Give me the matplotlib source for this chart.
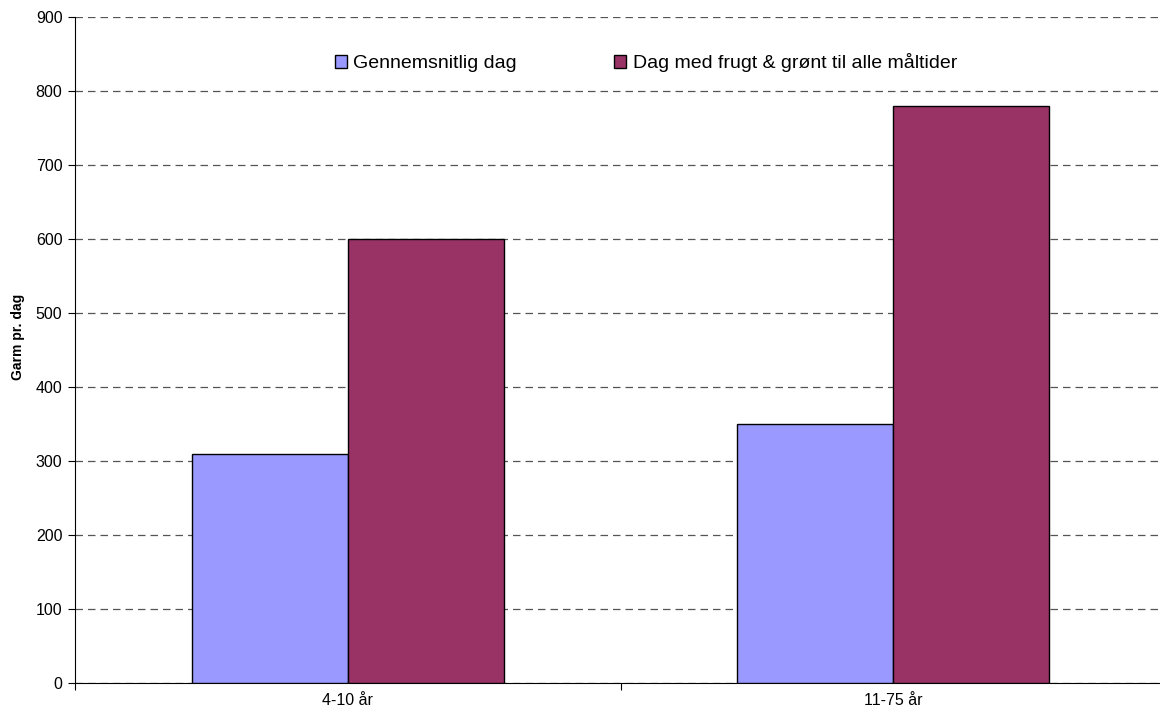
import matplotlib.pyplot as plt
import numpy as np

plt.rcParams['font.family'] = ['Liberation Sans', 'DejaVu Sans']

categories = ['4-10 år', '11-75 år']
series_names = ['Gennemsnitlig dag', 'Dag med frugt & grønt til alle måltider']
gennemsnit = [310, 350]
frugt_groent = [600, 780]
colors = ['#9999FF', '#993366']

fig = plt.figure(figsize=(11.6, 7.13), dpi=100)
ax = fig.add_axes([75/1160, 1 - 683/713, 1091/1160, 666/713])

x = np.arange(len(categories))
w = 0.2857
b1 = ax.bar(x - w/2, gennemsnit, w, color=colors[0], edgecolor='black', linewidth=1, zorder=3)
b2 = ax.bar(x + w/2, frugt_groent, w, color=colors[1], edgecolor='black', linewidth=1, zorder=3)

ax.set_xlim(-0.5, 1.5)
ax.set_ylim(0, 900)
ax.set_yticks(np.arange(0, 901, 100))
ax.yaxis.grid(True, linestyle=(0, (6, 4)), color='#555555', linewidth=0.9, zorder=0)

# category labels centred, tick marks at category boundaries
ax.set_xticks([-0.5, 0.5, 1.5])
ax.set_xticklabels([])
ax.set_xticks(x, minor=True)
ax.set_xticklabels(categories, minor=True, fontsize=11.5)
ax.tick_params(axis='x', which='minor', length=0, pad=7)
ax.tick_params(axis='x', which='major', length=5, direction='out')
ax.tick_params(axis='y', length=5, direction='out', labelsize=11.5, pad=4)

for s in ['top', 'right']:
    ax.spines[s].set_visible(False)

ax.set_ylabel('Garm pr. dag', fontsize=10, fontweight='bold')
ax.yaxis.set_label_coords(-0.046, 0.52)

fig.legend([b1, b2], series_names, loc='center', bbox_to_anchor=(646/1160, 1 - 63/713),
           ncol=2, frameon=False, fontsize=14, handlelength=0.62, handleheight=0.62,
           handletextpad=0.35, columnspacing=5)

fig.savefig('out.png', dpi=100)
